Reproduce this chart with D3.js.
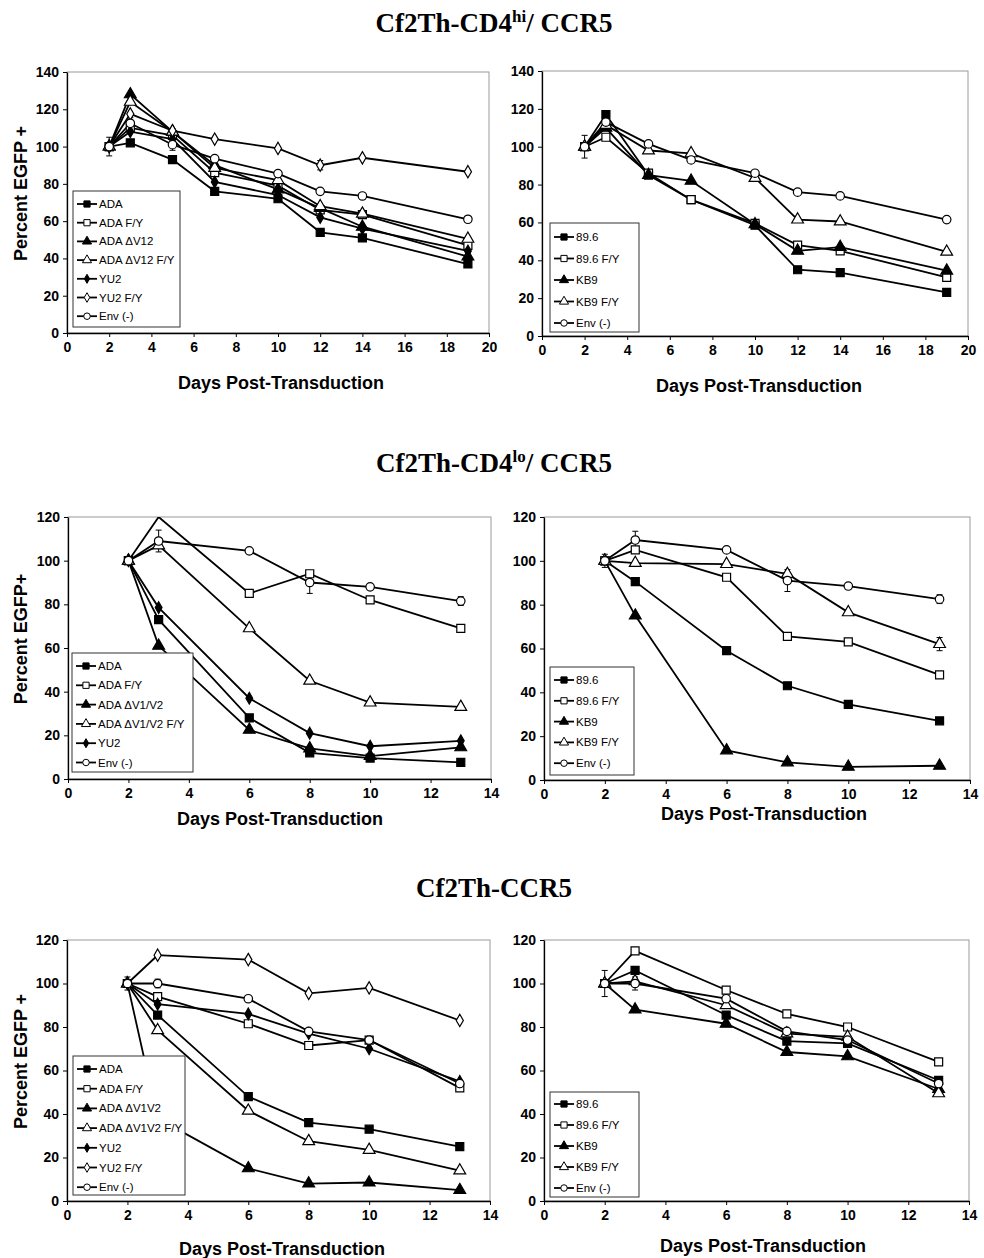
<!DOCTYPE html>
<html>
<head>
<meta charset="utf-8">
<script src="https://cdn.jsdelivr.net/npm/d3@7"></script>
<style>
  body { margin: 0; background: #fff; }
  .tick text { font-family: "Liberation Sans", Arial, sans-serif; font-weight: bold; font-size: 14px; fill: #000; }
</style>
</head>
<body>
<svg id="fig"></svg>
<script>
// ---------- data ----------
const hiDays = [2, 3, 5, 7, 10, 12, 14, 19];
const loDays = [2, 3, 6, 8, 10, 13];

const xTicks20 = [0, 2, 4, 6, 8, 10, 12, 14, 16, 18, 20];
const xTicks14 = [0, 2, 4, 6, 8, 10, 12, 14];
const yTicks140 = [0, 20, 40, 60, 80, 100, 120, 140];
const yTicks120 = [0, 20, 40, 60, 80, 100, 120];

// Cf2Th-CD4hi / CCR5, left
const hiLeftLabels = ["ADA", "ADA F/Y", "ADA \u0394V12", "ADA \u0394V12 F/Y", "YU2", "YU2 F/Y", "Env (-)"];
const hiLeftMarks = ["sqF", "sqO", "triF", "triO", "diaF", "diaO", "circO"];
const hiLeftValues = [
  [100, 102, 93, 76, 72, 54, 51, 37],
  [100, 110, 106, 86, 79, 66, 63.5, 47],
  [100, 128, 108, 90, 77, 67, 57, 41],
  [100, 124, 108, 88.5, 82, 68, 64, 50.5],
  [100, 108, 104, 81, 74, 62, 56, 44],
  [100, 117.5, 108.5, 104, 99, 90, 94, 86.5],
  [100, 112.5, 101, 93.5, 85.5, 76, 73.5, 61]
];
const hiLeftErr = [[6, 2, 5], [6, 3, 3], [6, 5, 3], [5, 12, 2.5]];

// Cf2Th-CD4hi / CCR5, right
const hiRightLabels = ["89.6", "89.6 F/Y", "KB9", "KB9 F/Y", "Env (-)"];
const hiRightMarks = ["sqF", "sqO", "triF", "triO", "circO"];
const hiRightValues = [
  [100, 117, 85, 72, 58.5, 35, 33.5, 23],
  [100, 105, 86, 72, 59.5, 48, 45, 31],
  [100, 110, 85, 82, 59, 45, 47, 34.5],
  [100, 111.5, 98, 96.5, 83.5, 61.5, 60.5, 44.5],
  [100, 113, 101.5, 93, 86, 76, 74, 61.5]
];
const hiRightErr = [[4, 2, 6]];

// Cf2Th-CD4lo / CCR5, left
const loLeftLabels = ["ADA", "ADA F/Y", "ADA \u0394V1/V2", "ADA \u0394V1/V2 F/Y", "YU2", "Env (-)"];
const loLeftMarks = ["sqF", "sqO", "triF", "triO", "diaF", "circO"];
const loLeftValues = [
  [100, 73, 28, 12, 9.6, 7.6],
  [100, 120, 85, 94, 82, 69],
  [100, 61, 22.5, 14, 10.5, 14.5],
  [100, 107, 69, 45, 35, 33],
  [100, 78.5, 37, 21, 15, 17.5],
  [100, 109, 104.5, 90, 88, 81.5]
];
const loLeftErr = [[5, 3, 5], [5, 8, 5], [5, 13, 2]];

// Cf2Th-CD4lo / CCR5, right
const loRightLabels = ["89.6", "89.6 F/Y", "KB9", "KB9 F/Y", "Env (-)"];
const loRightMarks = ["sqF", "sqO", "triF", "triO", "circO"];
const loRightValues = [
  [100, 90.5, 59, 43, 34.5, 27],
  [100, 105, 92.5, 65.5, 63, 48],
  [100, 75, 13.5, 8, 6, 6.5],
  [100, 99, 98.5, 94, 76.5, 62],
  [100, 109.5, 105, 91, 88.5, 82.5]
];
const loRightErr = [[4, 2, 3], [4, 3, 4], [4, 8, 5], [4, 13, 2], [3, 13, 3]];

// Cf2Th-CCR5, left
const ccrLeftLabels = ["ADA", "ADA F/Y", "ADA \u0394V1V2", "ADA \u0394V1V2 F/Y", "YU2", "YU2 F/Y", "Env (-)"];
const ccrLeftMarks = ["sqF", "sqO", "triF", "triO", "diaF", "diaO", "circO"];
const ccrLeftValues = [
  [100, 85.5, 48, 36, 33, 25],
  [100, 94, 81.5, 71.5, 74, 52],
  [100, 38, 15, 8, 8.5, 5],
  [100, 78.5, 41.5, 27.5, 23.5, 14],
  [100, 90.5, 86, 77, 70, 55],
  [100, 113, 111, 95.5, 98, 83],
  [100, 100, 93, 78, 74, 54]
];
const ccrLeftErr = [[0, 2, 3], [6, 3, 2]];

// Cf2Th-CCR5, right
const ccrRightLabels = ["89.6", "89.6 F/Y", "KB9", "KB9 F/Y", "Env (-)"];
const ccrRightMarks = ["sqF", "sqO", "triF", "triO", "circO"];
const ccrRightValues = [
  [100, 106, 85.5, 73.5, 72.5, 55.5],
  [100, 115, 97, 86, 80, 64],
  [100, 88, 81.5, 68.5, 66.5, 51.5],
  [100, 101, 90, 77, 75.5, 49.5],
  [100, 100, 93, 78, 74, 54]
];
const ccrRightErr = [[4, 2, 6], [4, 3, 3]];

// ---------- drawing ----------
const W = 984, H = 1258;
const svg = d3.select("#fig").attr("width", W).attr("height", H);
const sans = '"Liberation Sans", Arial, sans-serif';
const serif = '"Liberation Serif", "Times New Roman", serif';

const markStyle = {
  sqF:   { type: d3.symbolSquare,   size: 64, fill: "#000" },
  sqO:   { type: d3.symbolSquare,   size: 64, fill: "#fff" },
  triF:  { type: d3.symbolTriangle, size: 60, fill: "#000" },
  triO:  { type: d3.symbolTriangle, size: 60, fill: "#fff" },
  diaF:  { type: d3.symbolDiamond,  size: 40, fill: "#000" },
  diaO:  { type: d3.symbolDiamond,  size: 44, fill: "#fff" },
  circO: { type: d3.symbolCircle,   size: 56, fill: "#fff" }
};

let panelCount = 0;

function drawPanel(p) {
  const x = d3.scaleLinear().domain([0, p.xMax]).range([p.left, p.right]);
  const y = d3.scaleLinear().domain([0, p.yMax]).range([p.bottom, p.top]);
  const g = svg.append("g");
  const clipId = "clip" + (panelCount++);

  g.append("clipPath").attr("id", clipId).append("rect")
    .attr("x", p.left - 10).attr("y", p.top)
    .attr("width", p.right - p.left + 20).attr("height", p.bottom - p.top + 10);

  // plot area frame
  g.append("rect")
    .attr("x", p.left).attr("y", p.top)
    .attr("width", p.right - p.left).attr("height", p.bottom - p.top)
    .attr("fill", "none").attr("stroke", "#9a9a9a").attr("stroke-width", 1);

  const xAxis = d3.axisBottom(x).tickValues(p.xTicks).tickSize(4).tickSizeOuter(0).tickPadding(5);
  const yAxis = d3.axisLeft(y).tickValues(p.yTicks).tickSize(4).tickSizeOuter(0).tickPadding(4);
  const xg = g.append("g").attr("transform", `translate(0,${p.bottom})`).call(xAxis);
  const yg = g.append("g").attr("transform", `translate(${p.left},0)`).call(yAxis);
  [xg, yg].forEach(a => {
    a.select(".domain").attr("stroke", "#000").attr("stroke-width", 1.3);
    a.selectAll(".tick line").attr("stroke", "#000");
  });

  const plot = g.append("g").attr("clip-path", `url(#${clipId})`);

  // series
  const line = d3.line().x(d => x(d[0])).y(d => y(d[1]));
  p.values.forEach((vals, i) => {
    const pts = p.days.map((d, j) => [d, vals[j]]).filter(d => d[1] != null);
    plot.append("path").attr("d", line(pts))
      .attr("fill", "none").attr("stroke", "#000").attr("stroke-width", 1.8);
  });

  // error bars
  p.err.forEach(([si, day, e]) => {
    const v = p.values[si][p.days.indexOf(day)];
    const cx = x(day);
    plot.append("line").attr("x1", cx).attr("x2", cx).attr("y1", y(v - e)).attr("y2", y(v + e))
      .attr("stroke", "#000").attr("stroke-width", 1);
    [v - e, v + e].forEach(b => plot.append("line")
      .attr("x1", cx - 3).attr("x2", cx + 3).attr("y1", y(b)).attr("y2", y(b))
      .attr("stroke", "#000").attr("stroke-width", 1));
  });

  // markers (clipped at the plot top like the original)
  p.values.forEach((vals, i) => {
    const st = markStyle[p.marks[i]];
    const sym = d3.symbol().type(st.type).size(st.size);
    p.days.forEach((d, j) => {
      if (vals[j] == null || vals[j] >= p.yMax) return;
      plot.append("path").attr("d", sym())
        .attr("transform", `translate(${x(d)},${y(vals[j])})`)
        .attr("fill", st.fill).attr("stroke", "#000").attr("stroke-width", 1.2);
    });
  });

  // legend
  const L = p.legend;
  g.append("rect").attr("x", L.x).attr("y", L.y).attr("width", L.w).attr("height", L.h)
    .attr("fill", "#fff").attr("stroke", "#333").attr("stroke-width", 1);
  p.labels.forEach((lab, i) => {
    const ly = L.y + L.first + i * L.step;
    const lx = L.x + 4;
    g.append("line").attr("x1", lx).attr("x2", lx + 20).attr("y1", ly).attr("y2", ly)
      .attr("stroke", "#000").attr("stroke-width", 1.8);
    const st = markStyle[p.marks[i]];
    g.append("path").attr("d", d3.symbol().type(st.type).size(st.size * 0.6)())
      .attr("transform", `translate(${lx + 10},${ly})`)
      .attr("fill", st.fill).attr("stroke", "#000").attr("stroke-width", 1);
    g.append("text").attr("x", lx + 22).attr("y", ly + 4)
      .attr("font-family", sans).attr("font-size", 11.5).text(lab);
  });

  // axis titles
  g.append("text").attr("x", p.xTitle[0]).attr("y", p.xTitle[1])
    .attr("text-anchor", "middle").attr("font-family", sans).attr("font-weight", "bold")
    .attr("font-size", 18).text("Days Post-Transduction");
  if (p.yTitle) {
    g.append("text")
      .attr("transform", `translate(27,${(p.top + p.bottom) / 2 - 9}) rotate(-90)`)
      .attr("text-anchor", "middle").attr("font-family", sans).attr("font-weight", "bold")
      .attr("font-size", 18).text(p.yTitle);
  }
}

function title(cx, by, main, sup, rest) {
  const t = svg.append("text").attr("x", cx).attr("y", by).attr("text-anchor", "middle")
    .attr("font-family", serif).attr("font-weight", "bold").attr("font-size", 27);
  t.append("tspan").text(main);
  if (sup) {
    t.append("tspan").attr("font-size", 17).attr("dy", -10).text(sup);
    t.append("tspan").attr("dy", 10).text(rest);
  }
}

title(494, 32, "Cf2Th-CD4", "hi", "/ CCR5");
title(494, 472, "Cf2Th-CD4", "lo", "/ CCR5");
title(494, 897, "Cf2Th-CCR5");

drawPanel({
  left: 67, right: 489, top: 72, bottom: 333, xMax: 20, yMax: 140,
  xTicks: xTicks20, yTicks: yTicks140, days: hiDays,
  labels: hiLeftLabels, marks: hiLeftMarks, values: hiLeftValues, err: hiLeftErr,
  legend: { x: 73, y: 191, w: 107, h: 136, first: 13, step: 18.7 },
  xTitle: [281, 389], yTitle: "Percent EGFP +"
});
drawPanel({
  left: 542, right: 968, top: 71, bottom: 336, xMax: 20, yMax: 140,
  xTicks: xTicks20, yTicks: yTicks140, days: hiDays,
  labels: hiRightLabels, marks: hiRightMarks, values: hiRightValues, err: hiRightErr,
  legend: { x: 550, y: 223, w: 89, h: 109, first: 14, step: 21.5 },
  xTitle: [759, 392]
});
drawPanel({
  left: 68, right: 491, top: 517, bottom: 779, xMax: 14, yMax: 120,
  xTicks: xTicks14, yTicks: yTicks120, days: loDays,
  labels: loLeftLabels, marks: loLeftMarks, values: loLeftValues, err: loLeftErr,
  legend: { x: 72, y: 653, w: 121, h: 119, first: 13, step: 19.3 },
  xTitle: [280, 825], yTitle: "Percent EGFP+"
});
drawPanel({
  left: 544, right: 970, top: 517, bottom: 780, xMax: 14, yMax: 120,
  xTicks: xTicks14, yTicks: yTicks120, days: loDays,
  labels: loRightLabels, marks: loRightMarks, values: loRightValues, err: loRightErr,
  legend: { x: 550, y: 667, w: 84, h: 108, first: 13, step: 20.8 },
  xTitle: [764, 820]
});
drawPanel({
  left: 67, right: 490, top: 940, bottom: 1201, xMax: 14, yMax: 120,
  xTicks: xTicks14, yTicks: yTicks120, days: loDays,
  labels: ccrLeftLabels, marks: ccrLeftMarks, values: ccrLeftValues, err: ccrLeftErr,
  legend: { x: 73, y: 1056, w: 112, h: 139, first: 13, step: 19.7 },
  xTitle: [282, 1255], yTitle: "Percent EGFP +"
});
drawPanel({
  left: 544, right: 969, top: 940, bottom: 1201, xMax: 14, yMax: 120,
  xTicks: xTicks14, yTicks: yTicks120, days: loDays,
  labels: ccrRightLabels, marks: ccrRightMarks, values: ccrRightValues, err: ccrRightErr,
  legend: { x: 550, y: 1092, w: 89, h: 105, first: 12, step: 21 },
  xTitle: [763, 1252]
});
</script>
</body>
</html>
